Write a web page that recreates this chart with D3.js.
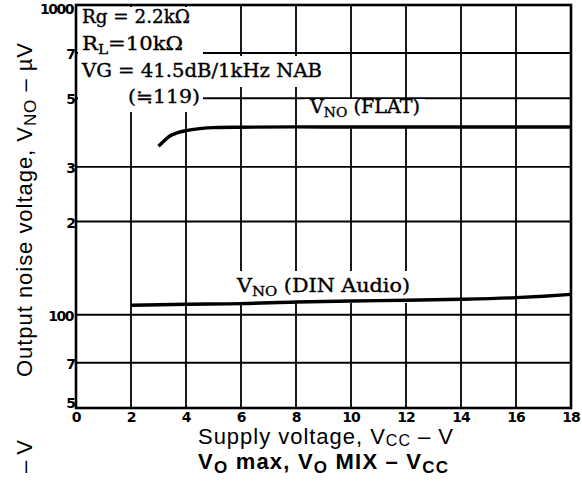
<!DOCTYPE html>
<meta charset="utf-8">
<style>
body { margin: 0; background: #fff; }
.grid line { stroke: #000; stroke-width: 1.8px; }
.frame { fill: none; stroke: #000; stroke-width: 2.6px; }
.curve { fill: none; stroke: #000; stroke-width: 3.4px; }
.tick { font-family: "DejaVu Sans", sans-serif; font-weight: bold; font-size: 14px; fill: #000; }
.note { font-family: "DejaVu Serif", "Liberation Serif", serif; font-size: 18px; fill: #000; stroke: #000; stroke-width: 0.35px; }
.title { font-family: "Liberation Sans", Arial, sans-serif; font-size: 22px; fill: #000; }
</style>
<body>
<script src="https://cdn.jsdelivr.net/npm/d3@7"></script>
<script>

// supply voltage ticks (V) and noise voltage ticks (uV)
var xTicks = [0, 2, 4, 6, 8, 10, 12, 14, 16, 18];
var yTicks = [50, 70, 100, 200, 300, 500, 700, 1000];
var yTickLabels = ["5", "7", "100", "2", "3", "5", "7", "1000"];

// V_NO (FLAT)
var flatX = [3, 3.2, 3.4, 3.7, 4, 4.5, 5, 6, 8, 10, 12, 14, 16, 18];
var flatY = [350, 364, 377, 387, 393, 399, 402, 403, 404, 404, 404, 404, 404, 404];

// V_NO (DIN Audio)
var dinX = [2, 4, 6, 8, 10, 12, 14, 16, 17, 18];
var dinY = [107.3, 108.1, 108.6, 110.0, 110.8, 111.4, 112.2, 113.6, 114.8, 116.4];

var W = 582, H = 481;
var x = d3.scaleLinear().domain([0, 18]).range([76, 571]);
var y = d3.scaleLog().domain([50, 1000]).range([408, 5]);

var svg = d3.select("body").append("svg")
    .attr("width", W)
    .attr("height", H);

// grid
var grid = svg.append("g").attr("class", "grid");
grid.selectAll(".v").data(xTicks).enter().append("line")
    .attr("x1", function(d) { return x(d); })
    .attr("x2", function(d) { return x(d); })
    .attr("y1", y(1000)).attr("y2", y(50));
grid.selectAll(".h").data(yTicks).enter().append("line")
    .attr("x1", x(0)).attr("x2", x(18))
    .attr("y1", function(d) { return y(d); })
    .attr("y2", function(d) { return y(d); });

// white masks where the notes sit over the grid
var masks = [
  [78, 7, 125, 105],
  [78, 56, 248, 31],
  [305, 99, 120, 28],
  [233, 271, 181, 32]
];
svg.selectAll(".mask").data(masks).enter().append("rect")
    .attr("x", function(d) { return d[0]; })
    .attr("y", function(d) { return d[1]; })
    .attr("width", function(d) { return d[2]; })
    .attr("height", function(d) { return d[3]; })
    .style("fill", "#fff");

svg.append("rect").attr("class", "frame")
    .attr("x", x(0)).attr("y", y(1000))
    .attr("width", x(18) - x(0)).attr("height", y(50) - y(1000));

// curves
var line = d3.line()
    .curve(d3.curveMonotoneX)
    .x(function(d) { return x(d[0]); })
    .y(function(d) { return y(d[1]); });

svg.append("path").attr("class", "curve")
    .attr("d", line(d3.zip(flatX, flatY)));
svg.append("path").attr("class", "curve")
    .attr("d", line(d3.zip(dinX, dinY)));

// tick labels
svg.selectAll(".xt").data(xTicks).enter().append("text")
    .attr("class", "tick")
    .attr("x", function(d) { return x(d); })
    .attr("y", 422)
    .attr("text-anchor", "middle")
    .style("letter-spacing", "-1px")
    .text(function(d) { return d; });

svg.selectAll(".yt").data(yTicks).enter().append("text")
    .attr("class", "tick")
    .attr("x", function(d, i) { return yTickLabels[i].length > 1 ? 73 : 76; })
    .attr("y", function(d) { return Math.min(403, Math.max(9, y(d) + 1)) + 5; })
    .attr("text-anchor", "end")
    .style("letter-spacing", function(d, i) { return yTickLabels[i].length > 1 ? "-1.5px" : null; })
    .text(function(d, i) { return yTickLabels[i]; });

// condition notes
function note(tx, ty, parts, len) {
  var t = svg.append("text").attr("class", "note")
      .attr("x", tx).attr("y", ty);
  parts.forEach(function(p) {
    var s = t.append("tspan").text(p[0]);
    if (p[1]) s.attr("font-size", "13px").attr("dy", 4);
    if (p[2]) s.attr("dy", -4);
  });
  if (len) t.attr("textLength", len).attr("lengthAdjust", "spacingAndGlyphs");
  return t;
}
note(82, 23, [["Rg = 2.2k\u03A9"]], 108);
note(82, 50, [["R"], ["L", true], ["=10k\u03A9", false, true]], 101);
note(82, 77, [["VG = 41.5dB/1kHz NAB"]], 240);
note(128, 103, [["(\u2252119)"]], 72);
note(310, 113, [["V"], ["NO", true], [" (FLAT)", false, true]], 110);
note(237, 292, [["V"], ["NO", true], [" (DIN Audio)", false, true]], 173);

// axis titles
var xt = svg.append("text").attr("class", "title").attr("x", 198).attr("y", 444)
    .attr("textLength", 255).attr("lengthAdjust", "spacing");
xt.append("tspan").text("Supply voltage, V");
xt.append("tspan").text("CC").attr("font-size", "16px").attr("dy", 2);
xt.append("tspan").text(" \u2013 V").attr("dy", -2);

var bt = svg.append("text").attr("class", "title").style("font-weight", "bold")
    .attr("x", 198).attr("y", 469)
    .attr("textLength", 250).attr("lengthAdjust", "spacing");
bt.append("tspan").text("V");
bt.append("tspan").text("O").attr("font-size", "17px").attr("dy", 4);
bt.append("tspan").text(" max, V").attr("dy", -4);
bt.append("tspan").text("O").attr("font-size", "17px").attr("dy", 4);
bt.append("tspan").text(" MIX \u2013 V").attr("dy", -4);
bt.append("tspan").text("CC").attr("font-size", "17px").attr("dy", 4);

var yt = svg.append("text").attr("class", "title")
    .attr("transform", "translate(32,377) rotate(-90)")
    .attr("textLength", 334).attr("lengthAdjust", "spacing");
yt.append("tspan").text("Output noise voltage, V");
yt.append("tspan").text("NO").attr("font-size", "17px").attr("dy", 4);
yt.append("tspan").text(" \u2013 \u00B5V").attr("dy", -4);

// fragment of the neighbouring chart's label
svg.append("text").attr("class", "title")
    .attr("text-anchor", "end")
    .attr("transform", "translate(32,440) rotate(-90)")
    .text("\u2013 V");

</script>
</body>
